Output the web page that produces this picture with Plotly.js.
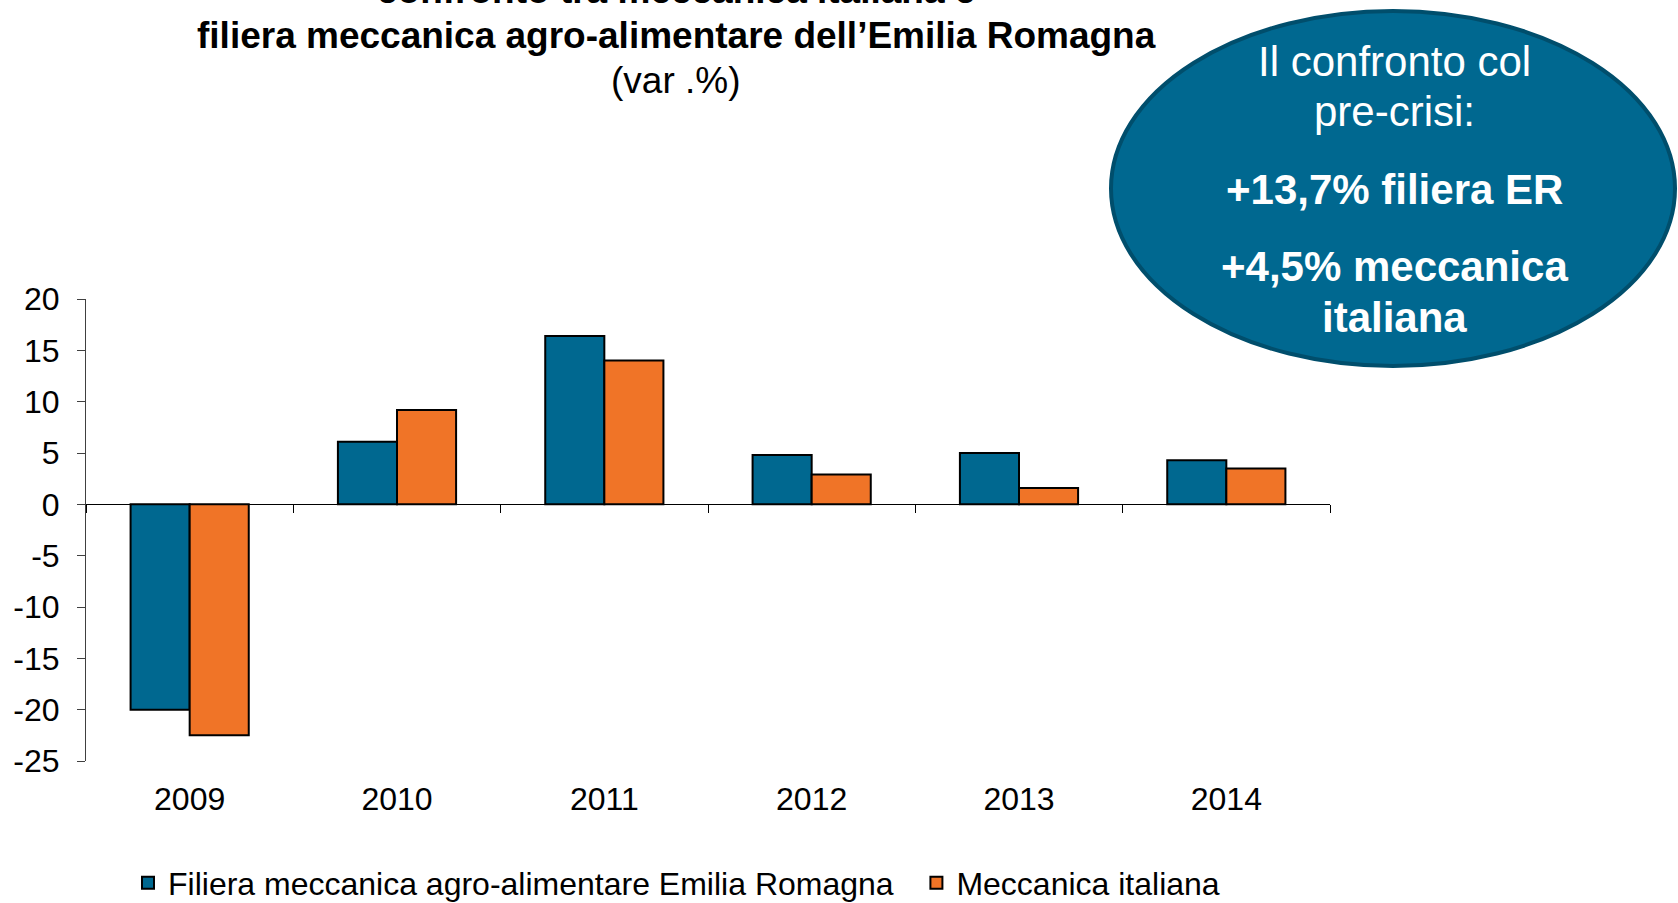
<!DOCTYPE html>
<html>
<head>
<meta charset="utf-8">
<script src="https://cdn.plot.ly/plotly-3.0.1.min.js"></script>
<style>
  html, body { margin: 0; padding: 0; background: #ffffff; }
  #chart { width: 1678px; height: 903px; }
</style>
</head>
<body>
<div id="chart"></div>
<script>
// ---- data ----
const years = ['2009', '2010', '2011', '2012', '2013', '2014'];
const filieraER = [-20.0, 6.1, 16.4, 4.8, 5.0, 4.3];
const meccanicaIT = [-22.5, 9.2, 14.0, 2.9, 1.6, 3.5];
const seriesNames = ['Filiera meccanica agro-alimentare Emilia Romagna', 'Meccanica italiana'];
const yTicks = [-25, -20, -15, -10, -5, 0, 5, 10, 15, 20];
const yTickText = yTicks.map(v => String(v));
const titleLines = ['confronto tra meccanica italiana e', 'filiera meccanica agro-alimentare dell\u2019Emilia Romagna', '(var .%)'];
const bubbleLines = ['Il confronto col', 'pre-crisi:', '+13,7% filiera ER', '+4,5% meccanica', 'italiana'];

// ---- style ----
const FONT = 'Liberation Sans, Arial, sans-serif';
const BLUE = '#006890';
const ORANGE = '#F07427';
const W = 1678, H = 903;
const M = {l: 86, r: 348, t: 299, b: 142};
const plotH = H - M.t - M.b;
const plotW = W - M.l - M.r;
const py = (pix) => (H - M.b - pix) / plotH;   // pixel y -> paper y
const px = (pix) => (pix - M.l) / plotW;       // pixel x -> paper x
const yMin = -25, yMax = 20;
const LEGEND_PAD = '\u00a0\u00a0';

const traces = [
  {type: 'bar', x: years, y: filieraER, name: seriesNames[0] + LEGEND_PAD,
   marker: {color: BLUE, line: {color: '#000000', width: 2}}},
  {type: 'bar', x: years, y: meccanicaIT, name: seriesNames[1],
   marker: {color: ORANGE, line: {color: '#000000', width: 2}}}
];

const annotations = [];
const titleY = [-10, 35, 80];
titleLines.forEach((t, i) => {
  annotations.push({
    xref: 'paper', yref: 'paper', x: px(676), y: py(titleY[i]),
    xanchor: 'center', yanchor: 'middle', showarrow: false,
    text: i < 2 ? '<b>' + t + '</b>' : t,
    font: {family: FONT, size: 37, color: '#000000'}
  });
});
const bubbleY = [61, 111, 189, 266, 317];
bubbleLines.forEach((t, i) => {
  annotations.push({
    xref: 'paper', yref: 'paper', x: px(1394), y: py(bubbleY[i]),
    xanchor: 'center', yanchor: 'middle', showarrow: false,
    text: i >= 2 ? '<b>' + t + '</b>' : t,
    font: {family: FONT, size: 42, color: '#ffffff'}
  });
});

const layout = {
  width: W, height: H,
  margin: M,
  paper_bgcolor: '#ffffff', plot_bgcolor: '#ffffff',
  font: {family: FONT, color: '#000000', size: 32},
  showlegend: true,
  barmode: 'group',
  bargap: 0.43,
  bargroupgap: 0,
  xaxis: {
    type: 'category',
    anchor: 'free',
    position: (0 - yMin) / (yMax - yMin),
    showline: true, linecolor: '#000000', linewidth: 1,
    ticks: 'outside', tickson: 'boundaries', ticklen: 8, tickcolor: '#000000', tickwidth: 1,
    ticklabelstandoff: 266,
    tickfont: {family: FONT, size: 32, color: '#000000'},
    showgrid: false, zeroline: false, automargin: false
  },
  yaxis: {
    range: [yMin, yMax],
    tickvals: yTicks,
    ticktext: yTickText,
    showline: true, linecolor: '#404040', linewidth: 1,
    ticks: 'outside', ticklen: 8, tickcolor: '#404040', tickwidth: 1,
    ticklabelstandoff: 11,
    tickfont: {family: FONT, size: 32, color: '#000000'},
    showgrid: false, zeroline: false, automargin: false
  },
  legend: {
    orientation: 'h',
    xref: 'paper', x: px(128), xanchor: 'left',
    yref: 'container', y: 1 - 883 / H, yanchor: 'middle',
    font: {family: FONT, size: 32, color: '#000000'},
    itemwidth: 30,
    bgcolor: 'rgba(0,0,0,0)'
  },
  shapes: [{
    type: 'circle', xref: 'paper', yref: 'paper', layer: 'above',
    x0: px(1111), x1: px(1675), y0: py(366), y1: py(11),
    fillcolor: BLUE, line: {color: '#004E6C', width: 4}
  }],
  annotations: annotations
};

Plotly.newPlot('chart', traces, layout, {displayModeBar: false, staticPlot: true});
</script>
</body>
</html>
